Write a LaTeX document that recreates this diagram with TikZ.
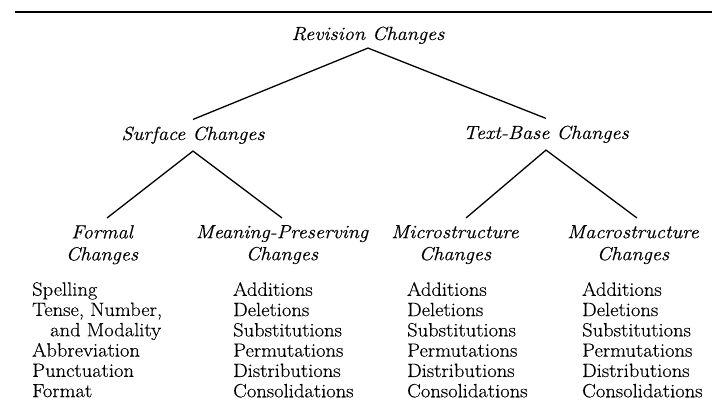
\documentclass[tikz,border=0pt]{standalone}
\usepackage{fontspec}
\setmainfont{Latin Modern Roman}[FakeStretch=1.07, FakeBold=0.35]
\begin{document}
\begin{tikzpicture}[x=1pt,y=-1pt,
  head/.style={font=\fontsize{19}{22}\selectfont\itshape, align=center, inner xsep=0pt, inner ysep=7pt},
  lst/.style={font=\fontsize{19.2}{20.3}\selectfont, align=left, inner sep=0pt, anchor=north west},
  conn/.style={line width=1.3pt, line join=miter}]
\useasboundingbox (0,0) rectangle (712,409);
\draw[line width=1.3pt] (15,12) -- (712,12);
% headings
\node[head, anchor=base, inner ysep=4pt] (rev) at (368,40) {Revision Changes};
\node[head, anchor=base] (surf) at (193,140) {Surface Changes};
\node[head, anchor=base] (tb) at (546,139) {Text-Base Changes};
\node[head, anchor=north] (formal) at (102,218) {Formal\\Changes};
\node[head, anchor=north] (mp) at (282,218) {Meaning-Preserving\\Changes};
\node[head, anchor=north] (micro) at (455,218) {Microstructure\\Changes};
\node[head, anchor=north] (macro) at (633,218) {Macrostructure\\Changes};
% connectors
\draw[conn] (surf.north) -- (rev.south) -- (tb.north);
\draw[conn] ([xshift=5pt]formal.north) -- (surf.south) -- (mp.north);
\draw[conn] ([xshift=11pt]micro.north) -- (tb.south) -- ([xshift=4pt]macro.north);
% lists
\node[lst] (flist) at (32,282) {Spelling\\Tense, Number,\\\hspace*{18pt}and Modality\\Abbreviation\\Punctuation\\Format};
\node[lst] (mplist) at (233,282) {Additions\\Deletions\\Substitutions\\Permutations\\Distributions\\Consolidations};
\node[lst] (milist) at (407,282) {Additions\\Deletions\\Substitutions\\Permutations\\Distributions\\Consolidations};
\node[lst] (malist) at (582,282) {Additions\\Deletions\\Substitutions\\Permutations\\Distributions\\Consolidations};
\end{tikzpicture}
\end{document}
